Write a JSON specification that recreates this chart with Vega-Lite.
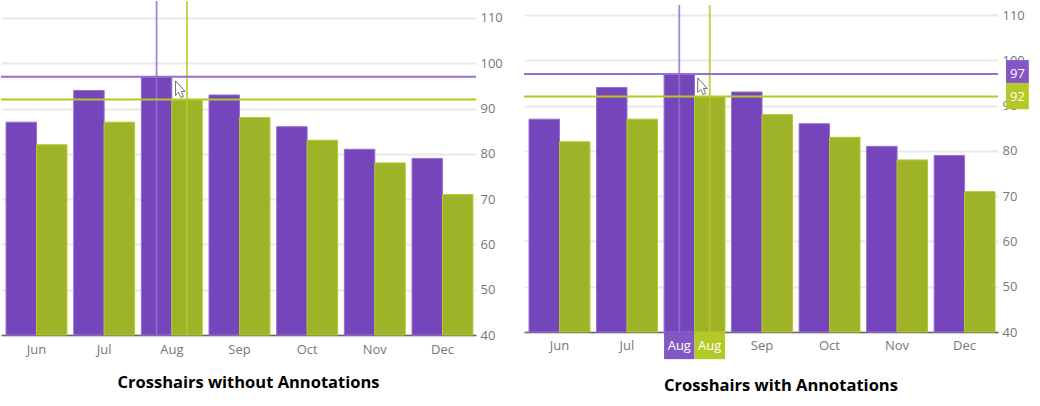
{
  "$schema": "https://vega.github.io/schema/vega-lite/v6.json",
  "padding": 0,
  "background": "white",
  "spacing": 20,
  "datasets": {
    "sales": [
      {"month":"Jun","series":"Series 1","value":87},{"month":"Jun","series":"Series 2","value":82},
      {"month":"Jul","series":"Series 1","value":94},{"month":"Jul","series":"Series 2","value":87},
      {"month":"Aug","series":"Series 1","value":97},{"month":"Aug","series":"Series 2","value":92},
      {"month":"Sep","series":"Series 1","value":93},{"month":"Sep","series":"Series 2","value":88},
      {"month":"Oct","series":"Series 1","value":86},{"month":"Oct","series":"Series 2","value":83},
      {"month":"Nov","series":"Series 1","value":81},{"month":"Nov","series":"Series 2","value":78},
      {"month":"Dec","series":"Series 1","value":79},{"month":"Dec","series":"Series 2","value":71}
    ],
    "cross": [
      {"month":"Aug","series":"Series 1","value":97,"lo":40,"hi":112.2,"hiLeft":113.75,"boxTop":100.05,"boxBottom":95,"boxL":1.017,"boxR":1.065,"boxC":1.041},
      {"month":"Aug","series":"Series 2","value":92,"lo":40,"hi":112.2,"hiLeft":113.75,"boxTop":95,"boxBottom":89.2,"boxL":1.017,"boxR":1.065,"boxC":1.041}
    ],
    "cursor": [{"month":"Aug","series":"Series 2","value":96.1}]
  },
  "config": {
    "view": {"stroke": null},
    "font": "Open Sans",
    "axis": {"labelFont":"Open Sans"},
    "title": {"font":"Open Sans","fontWeight":"bold","fontSize":16.5,"color":"#000000"}
  },
  "hconcat": [
    {
      "width": 475,
      "height": 334,
      "title": {"text":"Crosshairs without Annotations","orient":"bottom","anchor":"middle","dx":10,"offset":27,"baseline":"middle"},
      "layer": [
        {
          "data": {"name":"sales"},
          "mark": {"type":"bar","strokeWidth":1},
          "encoding": {
            "x": {"field":"month","type":"nominal","sort":["Jun","Jul","Aug","Sep","Oct","Nov","Dec"],
              "scale":{"paddingInner":0.1,"paddingOuter":0.06,"align":0.62},
              "axis":{"title":null,"labelAngle":0,"labelColor":"#777777","labelFontSize":13,"labelPadding":8,"tickSize":0,"domainColor":"#666666","domainWidth":1.5,"grid":false}},
            "xOffset": {"field":"series","type":"nominal","sort":["Series 1","Series 2"]},
            "y": {"field":"value","type":"quantitative","stack":null,"scale":{"domain":[40,113.75],"nice":false,"zero":false},
              "axis":{"title":null,"orient":"right","values":[40,50,60,70,80,90,100,110],"labelColor":"#777777","labelFontSize":13,"labelPadding":4,"tickSize":0,"domain":false,"grid":true,"gridColor":"#e9e9e9","gridWidth":2}},
            "y2": {"datum":40},
            "fill": {"field":"series","type":"nominal","legend":null,"scale":{"domain":["Series 1","Series 2"],"range":["#7445BB","#9FB328"]}},
            "stroke": {"field":"series","type":"nominal","legend":null,"scale":{"domain":["Series 1","Series 2"],"range":["#9570D0","#B3C926"]}}
          }
        },
        {
          "data": {"name":"cross"},
          "mark": {"type":"rule","strokeWidth":1.8,"opacity":0.85},
          "encoding": {
            "x": {"field":"month","type":"nominal","sort":["Jun","Jul","Aug","Sep","Oct","Nov","Dec"]},
            "xOffset": {"field":"series","type":"nominal","sort":["Series 1","Series 2"]},
            "y": {"field":"lo","type":"quantitative"},
            "y2": {"field":"hiLeft"},
            "stroke": {"field":"series","type":"nominal","legend":null}
          }
        },
        {
          "data": {"name":"cross"},
          "mark": {"type":"rule","strokeWidth":2},
          "encoding": {
            "y": {"field":"value","type":"quantitative"},
            "stroke": {"field":"series","type":"nominal","legend":null}
          }
        },
        {
          "data": {"name":"cursor"},
          "mark": {"type":"point","filled":true,"fill":"#ffffff","stroke":"#333333","strokeWidth":0.7,"opacity":1,
            "shape":"M -1.15 0 L -1.15 1.45 L -0.85 1.15 L -0.6 1.65 L -0.35 1.55 L -0.58 1.05 L -0.2 1.05 Z","size":400},
          "encoding": {
            "x": {"field":"month","type":"nominal","sort":["Jun","Jul","Aug","Sep","Oct","Nov","Dec"]},
            "xOffset": {"field":"series","type":"nominal","sort":["Series 1","Series 2"]},
            "y": {"field":"value","type":"quantitative"}
          }
        }
      ]
    },
    {
      "width": 474,
      "height": 331,
      "title": {"text":"Crosshairs with Annotations","orient":"bottom","anchor":"middle","dx":20,"offset":27,"baseline":"middle"},
      "resolve": {"scale":{"x":"independent"},"axis":{"x":"independent"}},
      "layer": [
        {
          "layer": [
            {
              "data": {"name":"sales"},
              "mark": {"type":"bar","strokeWidth":1},
              "encoding": {
                "x": {"field":"month","type":"nominal","sort":["Jun","Jul","Aug","Sep","Oct","Nov","Dec"],
                  "scale":{"paddingInner":0.1,"paddingOuter":0.06,"align":0.62},
                  "axis":{"title":null,"labelAngle":0,"labelColor":"#777777","labelFontSize":13,"labelPadding":7,"tickSize":0,"domainColor":"#666666","domainWidth":1.5,"grid":false,"labelExpr":"datum.label === 'Aug' ? '' : datum.label"}},
                "xOffset": {"field":"series","type":"nominal","sort":["Series 1","Series 2"]},
                "y": {"field":"value","type":"quantitative","stack":null,"scale":{"domain":[40,113.1],"nice":false,"zero":false},
                  "axis":{"title":null,"orient":"right","values":[40,50,60,70,80,90,100,110],"labelColor":"#777777","labelFontSize":13,"labelPadding":4,"tickSize":0,"domain":false,"grid":true,"gridColor":"#e9e9e9","gridWidth":2}},
                "y2": {"datum":40},
                "fill": {"field":"series","type":"nominal","legend":null,"scale":{"domain":["Series 1","Series 2"],"range":["#7445BB","#9FB328"]}},
                "stroke": {"field":"series","type":"nominal","legend":null,"scale":{"domain":["Series 1","Series 2"],"range":["#9570D0","#B3C926"]}}
              }
            },
            {
              "data": {"name":"cross"},
              "mark": {"type":"rule","strokeWidth":1.8,"opacity":0.85},
              "encoding": {
                "x": {"field":"month","type":"nominal","sort":["Jun","Jul","Aug","Sep","Oct","Nov","Dec"]},
                "xOffset": {"field":"series","type":"nominal","sort":["Series 1","Series 2"]},
                "y": {"field":"lo","type":"quantitative"},
                "y2": {"field":"hi"},
                "stroke": {"field":"series","type":"nominal","legend":null}
              }
            },
            {
              "data": {"name":"cross"},
              "mark": {"type":"rule","strokeWidth":2},
              "encoding": {
                "y": {"field":"value","type":"quantitative"},
                "stroke": {"field":"series","type":"nominal","legend":null}
              }
            },
            {
              "data": {"name":"cross"},
              "mark": {"type":"bar"},
              "encoding": {
                "x": {"field":"month","type":"nominal","sort":["Jun","Jul","Aug","Sep","Oct","Nov","Dec"]},
                "xOffset": {"field":"series","type":"nominal","sort":["Series 1","Series 2"]},
                "y": {"datum":40,"type":"quantitative"},
                "y2": {"datum":34},
                "fill": {"condition":{"test":"datum.series==='Series 1'","value":"#8356C4"},"value":"#B3C926"}
              }
            },
            {
              "data": {"name":"cross"},
              "mark": {"type":"text","color":"#ffffff","fontSize":13,"baseline":"middle"},
              "encoding": {
                "x": {"field":"month","type":"nominal","sort":["Jun","Jul","Aug","Sep","Oct","Nov","Dec"]},
                "xOffset": {"field":"series","type":"nominal","sort":["Series 1","Series 2"]},
                "y": {"datum":37,"type":"quantitative"},
                "text": {"field":"month"}
              }
            },
            {
              "data": {"name":"cursor"},
              "mark": {"type":"point","filled":true,"fill":"#ffffff","stroke":"#333333","strokeWidth":0.7,"opacity":1,
                "shape":"M -1.2 0 L -1.2 1.45 L -0.9 1.15 L -0.65 1.65 L -0.4 1.55 L -0.63 1.05 L -0.25 1.05 Z","size":400},
              "encoding": {
                "x": {"field":"month","type":"nominal","sort":["Jun","Jul","Aug","Sep","Oct","Nov","Dec"]},
                "xOffset": {"field":"series","type":"nominal","sort":["Series 1","Series 2"]},
                "y": {"field":"value","type":"quantitative"}
              }
            }
          ]
        },
        {
          "data": {"name":"cross"},
          "encoding": {
            "x": {"field":"boxL","type":"quantitative","axis":null,"scale":{"domain":[0,1],"nice":false,"zero":false}}
          },
          "layer": [
            {
              "mark": {"type":"rect"},
              "encoding": {
                "x2": {"field":"boxR"},
                "y": {"field":"boxTop","type":"quantitative"},
                "y2": {"field":"boxBottom"},
                "fill": {"condition":{"test":"datum.series==='Series 1'","value":"#8356C4"},"value":"#B3C926"}
              }
            },
            {
              "mark": {"type":"text","color":"#ffffff","fontSize":13,"baseline":"middle"},
              "encoding": {
                "x": {"field":"boxC","type":"quantitative"},
                "y": {"field":"value","type":"quantitative"},
                "text": {"field":"value","type":"quantitative"}
              }
            }
          ]
        }
      ]
    }
  ]
}
